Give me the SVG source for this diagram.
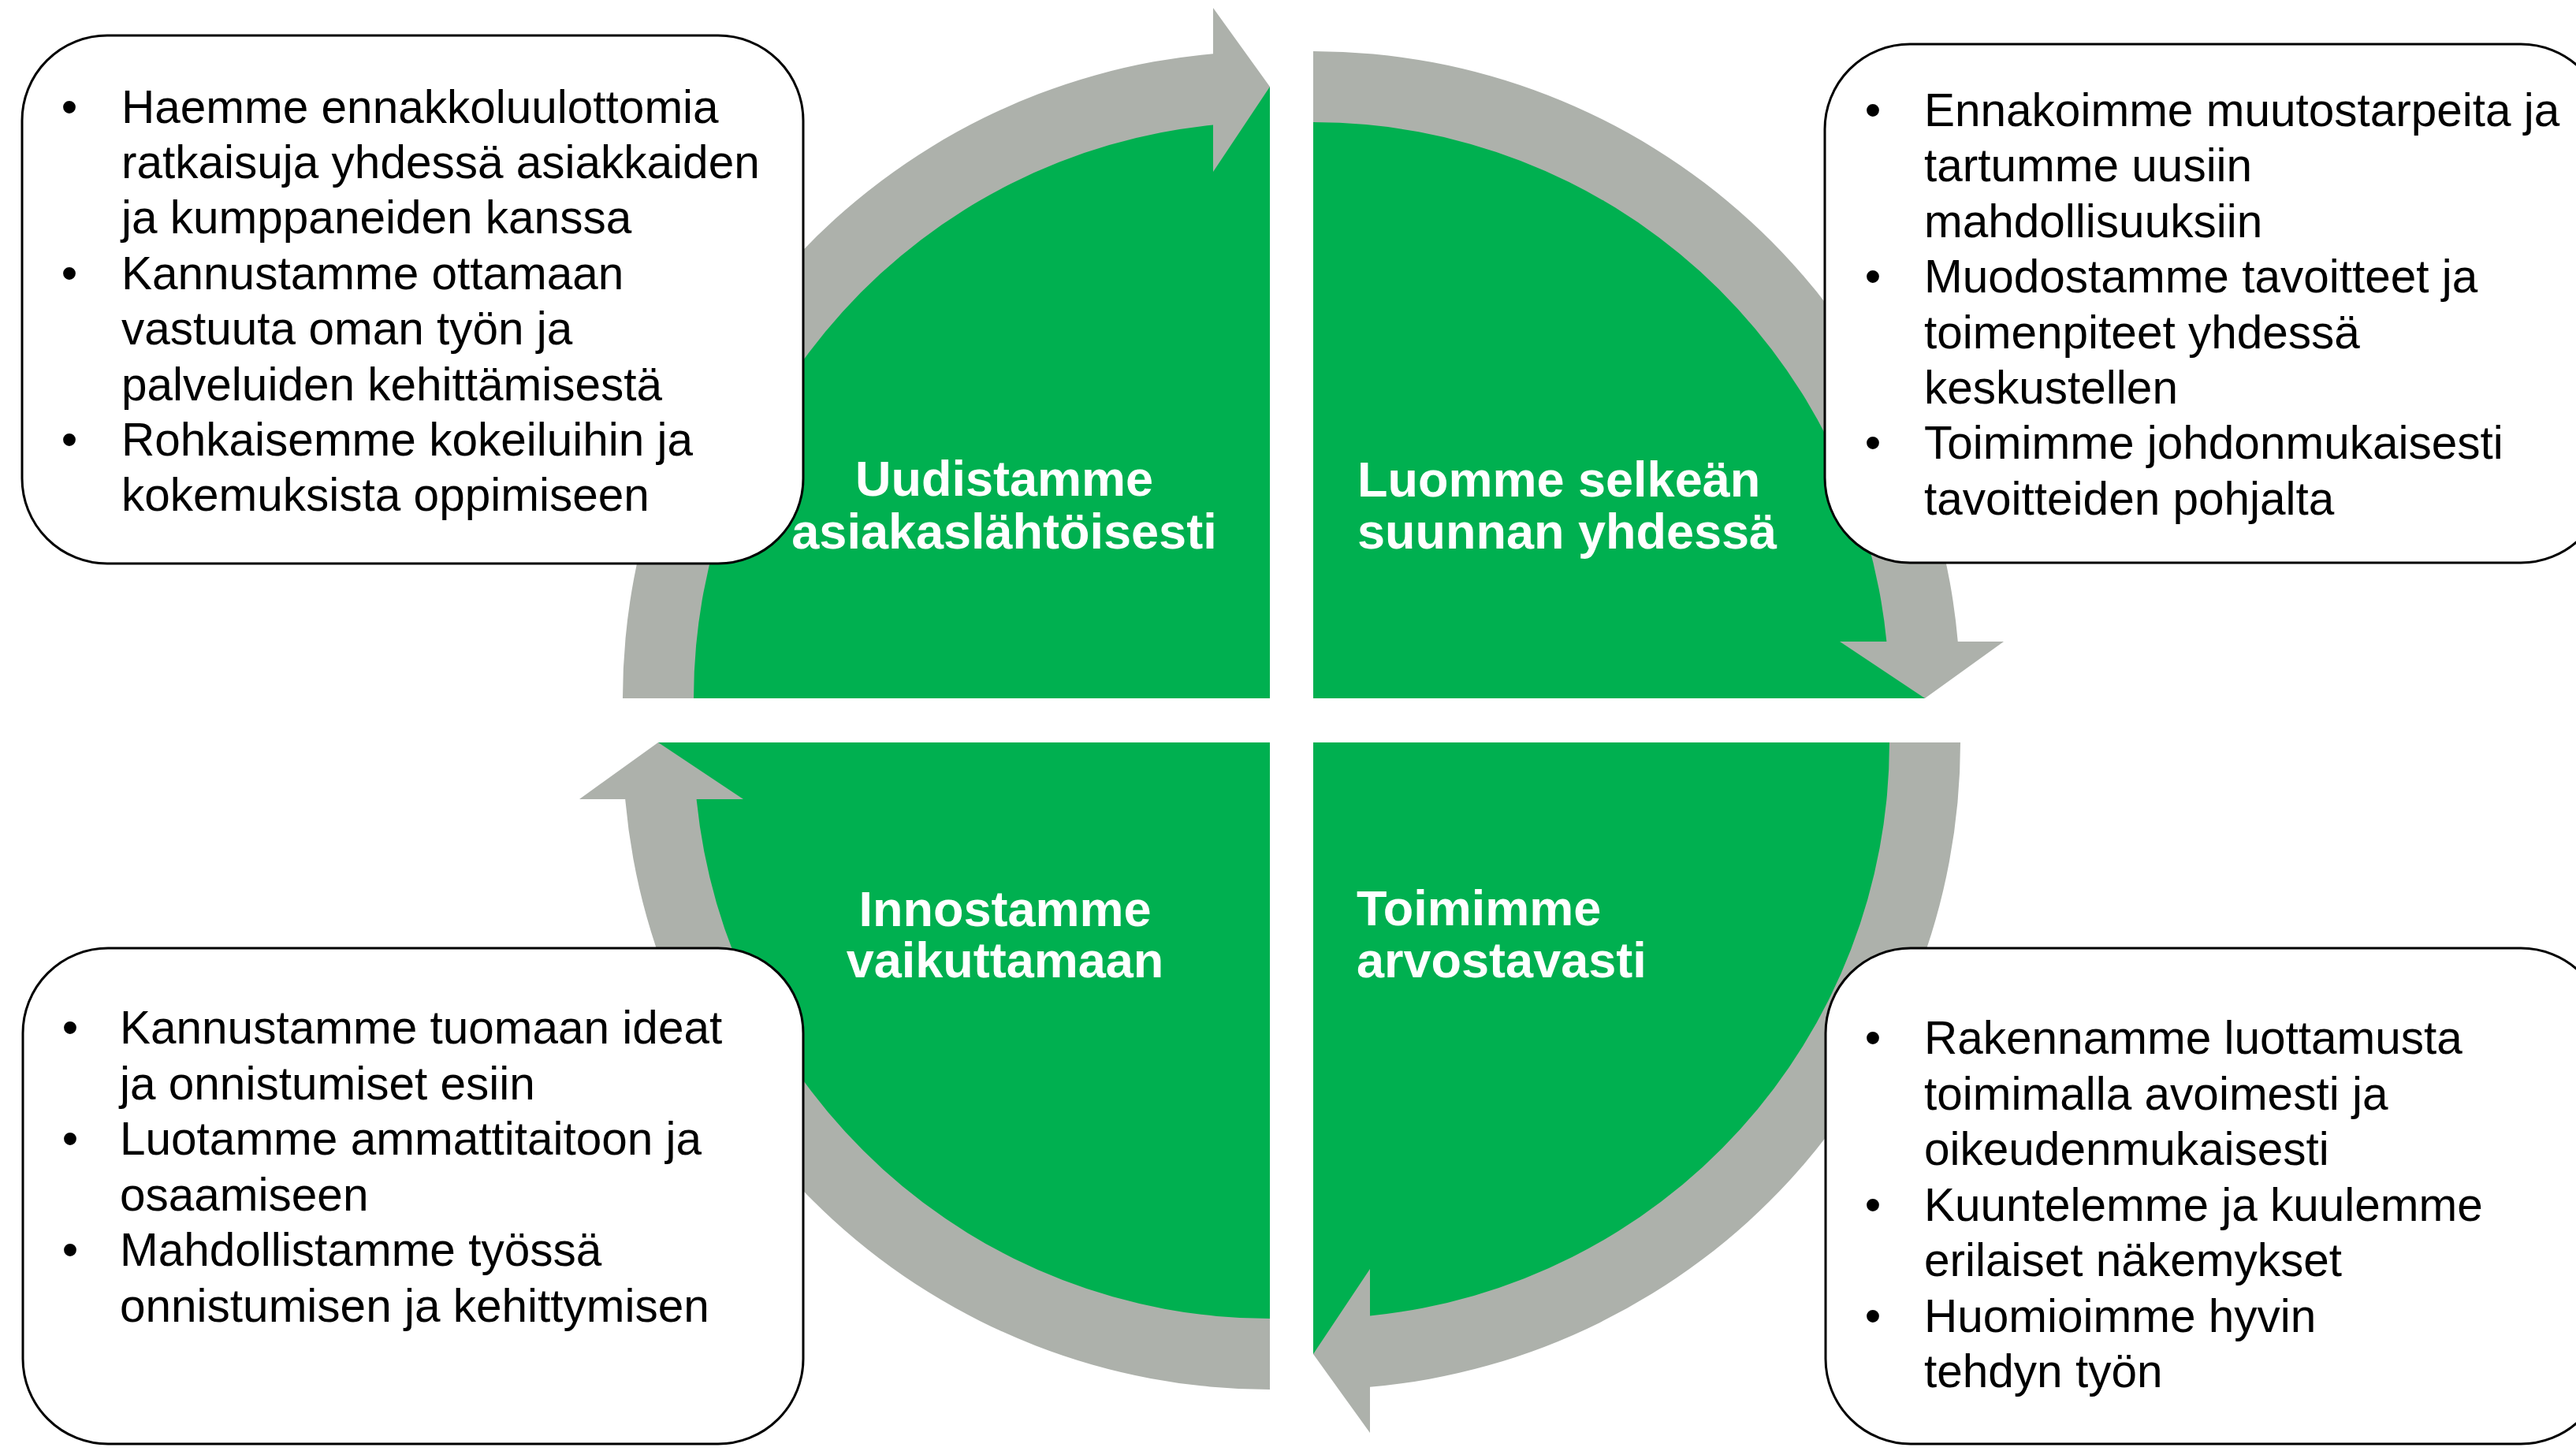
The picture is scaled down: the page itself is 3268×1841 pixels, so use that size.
<svg xmlns="http://www.w3.org/2000/svg" width="3268" height="1841" viewBox="0 0 3268 1841">
<style>
.q{fill:#00B050}
.arr{fill:#ADB1AB}
.box{fill:#FFFFFF;stroke:#000000;stroke-width:3}
.body{font-family:"Liberation Sans",Arial,sans-serif;font-size:58.5px;fill:#000000}
.title{font-family:"Liberation Sans",Arial,sans-serif;font-size:63px;font-weight:bold;fill:#FFFFFF}
</style>
<rect width="3268" height="1841" fill="#FFFFFF"/>
<g id="quadrants">
<path id="q-tl" class="q" d="M1611,886 L835,886 A776,776 0 0 1 1611,110 Z"/>
<path id="q-tr" class="q" d="M1666,886 L1666,110 A776,776 0 0 1 2442,886 Z"/>
<path id="q-br" class="q" d="M1666,942 L2442,942 A776,776 0 0 1 1666,1718 Z"/>
<path id="q-bl" class="q" d="M1611,942 L1611,1718 A776,776 0 0 1 835,942 Z"/>
</g>
<g id="connectors">
<path class="arr" d="M790,886 A821,821 0 0 1 1539,68.2 L1539,10 L1611,110 L1539,218 L1539,158.6 A731,731 0 0 0 880,886 Z"/>
<path class="arr" d="M1666,65 A821,821 0 0 1 2483.8,814 L2542,814 L2442,886 L2334,814 L2393.4,814 A731,731 0 0 0 1666,155 Z"/>
<path class="arr" d="M2487,942 A821,821 0 0 1 1738,1759.8 L1738,1818 L1666,1718 L1738,1610 L1738,1669.4 A731,731 0 0 0 2397,942 Z"/>
<path class="arr" d="M1611,1763 A821,821 0 0 1 793.2,1014 L735,1014 L835,942 L943,1014 L883.6,1014 A731,731 0 0 0 1611,1673 Z"/>
</g>
<g id="box-tl">
<rect class="box" x="28" y="45" width="991" height="670" rx="108" ry="108"/>
<text class="body" text-anchor="middle"><tspan x="88" y="155.5">•</tspan><tspan x="88" y="366.7">•</tspan><tspan x="88" y="577.9">•</tspan></text>
<text class="body">
<tspan x="154" y="155.5">Haemme ennakkoluulottomia</tspan>
<tspan x="154" y="225.9">ratkaisuja yhdessä asiakkaiden</tspan>
<tspan x="154" y="296.3">ja kumppaneiden kanssa</tspan>
<tspan x="154" y="366.7">Kannustamme ottamaan</tspan>
<tspan x="154" y="437.1">vastuuta oman työn ja</tspan>
<tspan x="154" y="507.5">palveluiden kehittämisestä</tspan>
<tspan x="154" y="577.9">Rohkaisemme kokeiluihin ja</tspan>
<tspan x="154" y="648.3">kokemuksista oppimiseen</tspan>
</text>
</g>
<g id="box-tr">
<rect class="box" x="2315" y="56" width="991" height="658" rx="108" ry="108"/>
<text class="body" text-anchor="middle"><tspan x="2376" y="160">•</tspan><tspan x="2376" y="371.2">•</tspan><tspan x="2376" y="582.4">•</tspan></text>
<text class="body">
<tspan x="2441" y="160">Ennakoimme muutostarpeita ja</tspan>
<tspan x="2441" y="230.4">tartumme uusiin</tspan>
<tspan x="2441" y="300.8">mahdollisuuksiin</tspan>
<tspan x="2441" y="371.2">Muodostamme tavoitteet ja</tspan>
<tspan x="2441" y="441.6">toimenpiteet yhdessä</tspan>
<tspan x="2441" y="512">keskustellen</tspan>
<tspan x="2441" y="582.4">Toimimme johdonmukaisesti</tspan>
<tspan x="2441" y="652.8">tavoitteiden pohjalta</tspan>
</text>
</g>
<g id="box-bl">
<rect class="box" x="29" y="1203" width="990" height="629" rx="108" ry="108"/>
<text class="body" text-anchor="middle"><tspan x="89" y="1324">•</tspan><tspan x="89" y="1465.2">•</tspan><tspan x="89" y="1606.4">•</tspan></text>
<text class="body">
<tspan x="152" y="1324">Kannustamme tuomaan ideat</tspan>
<tspan x="152" y="1394.6">ja onnistumiset esiin</tspan>
<tspan x="152" y="1465.2">Luotamme ammattitaitoon ja</tspan>
<tspan x="152" y="1535.8">osaamiseen</tspan>
<tspan x="152" y="1606.4">Mahdollistamme työssä</tspan>
<tspan x="152" y="1677">onnistumisen ja kehittymisen</tspan>
</text>
</g>
<g id="box-br">
<rect class="box" x="2316" y="1203" width="990" height="629" rx="108" ry="108"/>
<text class="body" text-anchor="middle"><tspan x="2376" y="1337">•</tspan><tspan x="2376" y="1548.5">•</tspan><tspan x="2376" y="1689.5">•</tspan></text>
<text class="body">
<tspan x="2441" y="1337">Rakennamme luottamusta</tspan>
<tspan x="2441" y="1407.5">toimimalla avoimesti ja</tspan>
<tspan x="2441" y="1478">oikeudenmukaisesti</tspan>
<tspan x="2441" y="1548.5">Kuuntelemme ja kuulemme</tspan>
<tspan x="2441" y="1619">erilaiset näkemykset</tspan>
<tspan x="2441" y="1689.5">Huomioimme hyvin</tspan>
<tspan x="2441" y="1760">tehdyn työn</tspan>
</text>
</g>
<g id="title-tl">
<text class="title" text-anchor="middle"><tspan x="1274" y="629">Uudistamme</tspan><tspan x="1274" y="696">asiakaslähtöisesti</tspan></text>
</g>
<g id="title-tr">
<text class="title"><tspan x="1722" y="630">Luomme selkeän</tspan><tspan x="1722" y="696">suunnan yhdessä</tspan></text>
</g>
<g id="title-bl">
<text class="title" text-anchor="middle"><tspan x="1275" y="1175">Innostamme</tspan><tspan x="1275" y="1240">vaikuttamaan</tspan></text>
</g>
<g id="title-br">
<text class="title"><tspan x="1721" y="1174">Toimimme</tspan><tspan x="1721" y="1240">arvostavasti</tspan></text>
</g>
</svg>
